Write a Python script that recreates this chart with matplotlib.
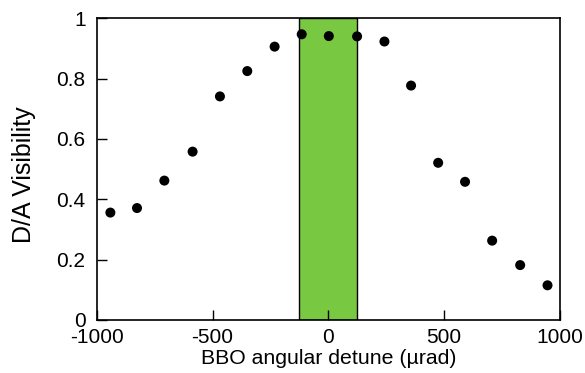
import matplotlib
matplotlib.use("Agg")
import matplotlib.pyplot as plt

detune = [-941, -826, -708, -586, -468, -350, -232, -115, 2, 124, 242, 357, 474, 590, 707, 828, 946]
visibility = [0.356, 0.371, 0.462, 0.558, 0.741, 0.825, 0.906, 0.947, 0.941, 0.940, 0.923, 0.777, 0.521, 0.458, 0.263, 0.182, 0.115]
band = [-125, 125]
xticks = [-1000, -500, 0, 500, 1000]
yticks = [0, 0.2, 0.4, 0.6, 0.8, 1]
yticklabels = ["0", "0.2", "0.4", "0.6", "0.8", "1"]

plt.rcParams['font.family'] = ['Liberation Sans', 'DejaVu Sans']
fig = plt.figure(figsize=(5.85, 3.73), dpi=100)
ax = fig.add_axes([0.1653, 0.1421, 0.7920, 0.8089])

ax.axvspan(band[0], band[1], facecolor='#78C841', edgecolor='black', linewidth=1.0, zorder=1)
ax.scatter(detune, visibility, s=52, color='black', zorder=3, edgecolors='none')

ax.set_xlim(-1000, 1000)
ax.set_ylim(0, 1)
ax.set_xticks(xticks)
ax.set_xticklabels([str(t) for t in xticks])
ax.set_yticks(yticks)
ax.set_yticklabels(yticklabels)
ax.tick_params(direction='in', length=7, width=1.0, labelsize=15, top=False, right=False)
ax.tick_params(axis='x', pad=6)
ax.tick_params(axis='y', pad=8)
for s in ax.spines.values():
    s.set_linewidth(1.2)
ax.set_xlabel("BBO angular detune (µrad)", fontsize=15.3, labelpad=1)
ax.set_ylabel("D/A Visibility", fontsize=18)
ax.yaxis.set_label_coords(-0.13, 0.48)

fig.savefig("out.png", dpi=100)
